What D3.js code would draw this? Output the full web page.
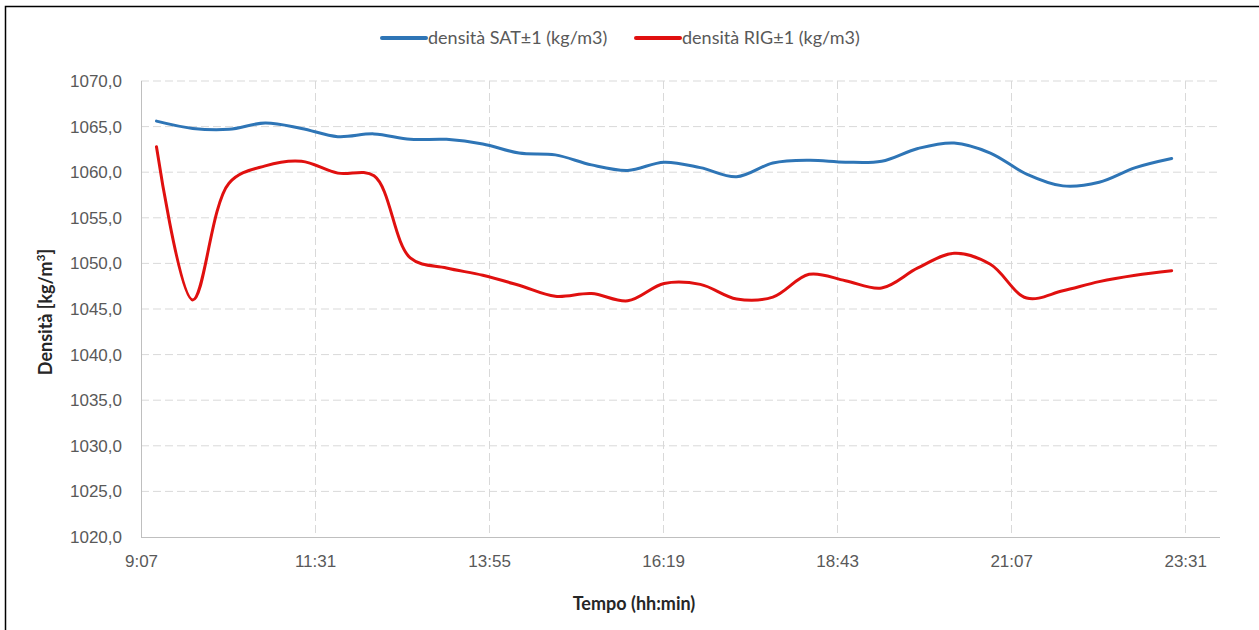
<!DOCTYPE html>
<html>
<head>
<meta charset="utf-8">
<title>Densità SAT / RIG</title>
<style>
  body { margin: 0; background: #fff; }
  svg { display: block; font-family: Lato, "Open Sans", sans-serif; }
  .tick text { fill: #595959; font-size: 17px; }
</style>
</head>
<body>
<script src="https://d3js.org/d3.v7.min.js"></script>
<script>
// sample times (hh:mm), every half hour
var times = ["9:20", "9:50", "10:20", "10:50", "11:20", "11:50", "12:20", "12:50", "13:20", "13:50",
             "14:20", "14:50", "15:20", "15:50", "16:20", "16:50", "17:20", "17:50", "18:20", "18:50",
             "19:20", "19:50", "20:20", "20:50", "21:20", "21:50", "22:20", "22:50", "23:20"];

var sat = [1065.6, 1064.8, 1064.7, 1065.4, 1064.8, 1063.9, 1064.2, 1063.6, 1063.6, 1063.1,
           1062.1, 1061.9, 1060.8, 1060.2, 1061.1, 1060.5, 1059.5, 1061.0, 1061.3, 1061.1,
           1061.2, 1062.6, 1063.2, 1062.1, 1059.8, 1058.5, 1058.9, 1060.5, 1061.5];

var rig = [1062.8, 1046.0, 1058.8, 1060.7, 1061.2, 1059.9, 1059.6, 1050.6, 1049.5, 1048.7,
           1047.6, 1046.4, 1046.7, 1045.9, 1047.8, 1047.7, 1046.1, 1046.3, 1048.8, 1048.1,
           1047.3, 1049.5, 1051.1, 1049.9, 1046.2, 1047.0, 1048.0, 1048.7, 1049.2];

var xTickLabels = ["9:07", "11:31", "13:55", "16:19", "18:43", "21:07", "23:31"];
var yTicks = [1020, 1025, 1030, 1035, 1040, 1045, 1050, 1055, 1060, 1065, 1070];

var seriesNames = ["densità SAT±1 (kg/m3)", "densità RIG±1 (kg/m3)"];
var seriesColors = ["#2e75b6", "#e0100f"];

var W = 1259, H = 630;
var margin = {top: 81, right: 39, bottom: 93, left: 141};
var width = W - margin.left - margin.right,
    height = H - margin.top - margin.bottom;

function toMin(s) {
  var p = s.split(":");
  return +p[0] * 60 + +p[1];
}

// x axis in minutes from midnight, Excel style: 0.38 day .. 1 day
var x = d3.scaleLinear().domain([0.38 * 1440, 1440]).range([0, width]);
var y = d3.scaleLinear().domain([1020, 1070]).range([height, 0]);

var svg = d3.select("body").append("svg")
    .attr("width", W)
    .attr("height", H);

// chart frame
svg.append("rect")
    .attr("x", 5.5).attr("y", 6.5)
    .attr("width", 1400).attr("height", 800)
    .attr("fill", "none")
    .attr("stroke", "#000")
    .attr("stroke-width", 1.5);

var g = svg.append("g")
    .attr("transform", "translate(" + margin.left + "," + margin.top + ")");

// horizontal grid
g.selectAll(".hgrid")
    .data(yTicks.slice(1))
  .enter().append("line")
    .attr("class", "hgrid")
    .attr("x1", 0).attr("x2", width)
    .attr("y1", function(d) { return y(d); })
    .attr("y2", function(d) { return y(d); })
    .attr("stroke", "#d9d9d9")
    .attr("stroke-dasharray", "8,4");

// vertical grid
g.selectAll(".vgrid")
    .data(xTickLabels.slice(1))
  .enter().append("line")
    .attr("class", "vgrid")
    .attr("y1", 0).attr("y2", height)
    .attr("x1", function(d) { return Math.round(x(toMin(d) + 0.2)) + 0.5; })
    .attr("x2", function(d) { return Math.round(x(toMin(d) + 0.2)) + 0.5; })
    .attr("stroke", "#d9d9d9")
    .attr("stroke-dasharray", "8,4");

// axis lines
g.append("line")
    .attr("x1", 0.5).attr("x2", 0.5)
    .attr("y1", 0).attr("y2", height)
    .attr("stroke", "#bfbfbf");
g.append("line")
    .attr("x1", 0).attr("x2", width)
    .attr("y1", height + 0.5).attr("y2", height + 0.5)
    .attr("stroke", "#bfbfbf");

// y axis labels
var yAxis = d3.axisLeft(y)
    .tickValues(yTicks)
    .tickSize(0)
    .tickPadding(19)
    .tickFormat(function(d) { return d3.format(".1f")(d).replace(".", ","); });
g.append("g").call(yAxis).call(function(s) { s.select(".domain").remove(); });

// x axis labels
var xAxis = d3.axisBottom(x)
    .tickValues(xTickLabels.map(function(d) { return toMin(d) + 0.2; }))
    .tickSize(0)
    .tickPadding(18)
    .tickFormat(function(d, i) { return xTickLabels[i]; });
g.append("g")
    .attr("transform", "translate(0," + height + ")")
    .call(xAxis)
    .call(function(s) { s.select(".domain").remove(); });

// lines
var line = d3.line()
    .x(function(d) { return x(d.t); })
    .y(function(d) { return y(d.v); })
    .curve(d3.curveCatmullRom.alpha(0.5));

[sat, rig].forEach(function(vals, i) {
  var data = vals.map(function(v, j) { return {t: toMin(times[j]), v: v}; });
  g.append("path")
      .datum(data)
      .attr("fill", "none")
      .attr("stroke", seriesColors[i])
      .attr("stroke-width", 3)
      .attr("stroke-linecap", "round")
      .attr("stroke-linejoin", "round")
      .attr("d", line);
});

// legend
var legendX = [382, 636];
seriesNames.forEach(function(name, i) {
  svg.append("line")
      .attr("x1", legendX[i]).attr("x2", legendX[i] + 44)
      .attr("y1", 38).attr("y2", 38)
      .attr("stroke", seriesColors[i])
      .attr("stroke-width", 4)
      .attr("stroke-linecap", "round");
  svg.append("text")
      .attr("x", legendX[i] + 46)
      .attr("y", 44)
      .attr("fill", "#595959")
      .attr("font-size", 18)
      .text(name);
});

// axis titles
svg.append("text")
    .attr("x", 634).attr("y", 610)
    .attr("text-anchor", "middle")
    .attr("font-weight", "bold")
    .attr("font-size", 18)
    .attr("fill", "#262626")
    .text("Tempo (hh:min)");

var yt = svg.append("text")
    .attr("transform", "translate(52,312) rotate(-90)")
    .attr("text-anchor", "middle")
    .attr("font-weight", "bold")
    .attr("font-size", 18)
    .attr("fill", "#262626");
yt.append("tspan").text("Densità [kg/m");
yt.append("tspan").attr("baseline-shift", "super").attr("font-size", 12).text("3");
yt.append("tspan").text("]");
</script>
</body>
</html>
